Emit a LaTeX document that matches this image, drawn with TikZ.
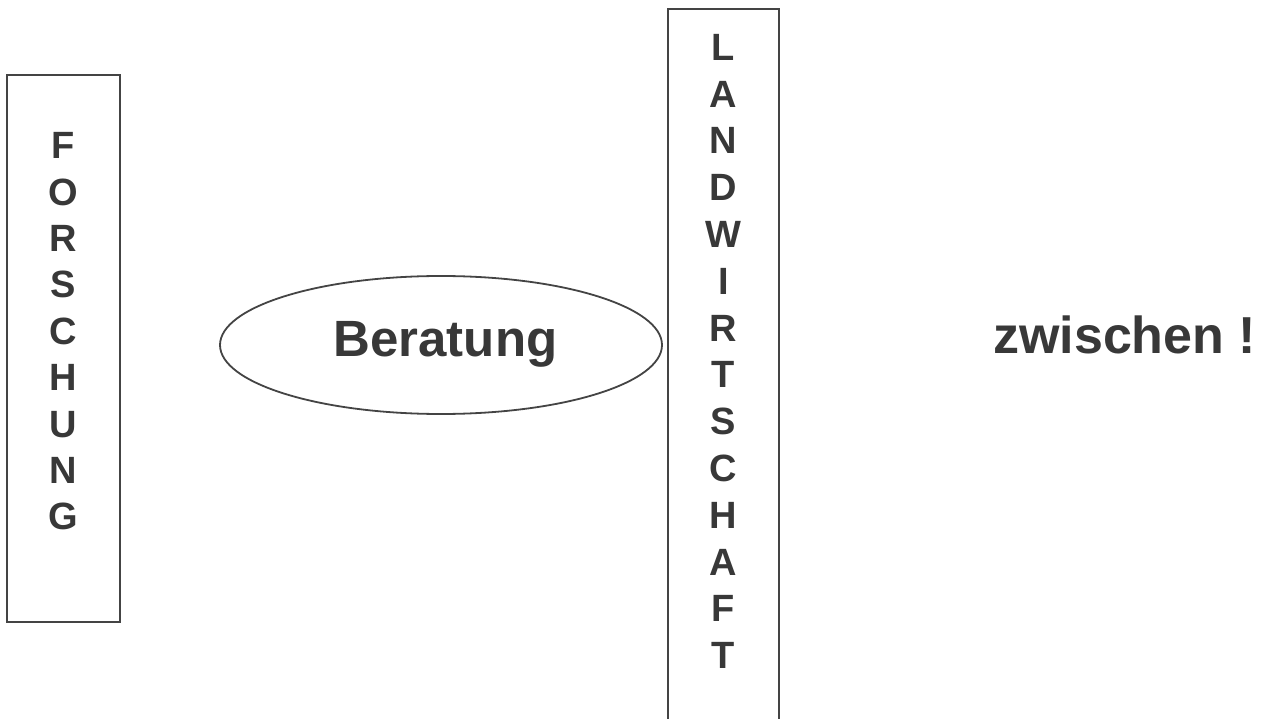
\documentclass[tikz,border=0pt]{standalone}
\usepackage{fontspec}
\setmainfont{Liberation Sans}
\usetikzlibrary{shapes.geometric}
\definecolor{ink}{HTML}{383838}
\definecolor{linec}{HTML}{444444}
\begin{document}
\begin{tikzpicture}[x=1pt,y=-1pt,
  frame/.style={draw=linec, line width=1.9pt, rectangle, inner sep=0pt},
  coltext/.style={text=ink, inner sep=0pt, align=center},
  bigtext/.style={text=ink, font=\bfseries\fontsize{51}{60}\selectfont, inner sep=0pt},
  oval/.style={draw=linec, line width=1.8pt, ellipse, inner sep=0pt}]
\useasboundingbox[fill=white] (0,0) rectangle (1269,719);
% Forschung
\node[frame, minimum width=113pt, minimum height=547pt] (forbox) at (63.5,348.5) {};
\node[coltext, font=\bfseries\fontsize{38}{46.4}\selectfont] (for) at (63.5,331.5) {F\\O\\R\\S\\C\\H\\U\\N\\G};
% Landwirtschaft
\node[frame, minimum width=111pt, minimum height=740pt] (landbox) at (723.5,379) {};
\node[coltext, font=\bfseries\fontsize{38}{46.8}\selectfont] (land) at (723.5,351.5) {L\\A\\N\\D\\W\\I\\R\\T\\S\\C\\H\\A\\F\\T};
% Beratung
\node[oval, minimum width=442pt, minimum height=138pt] (berbox) at (441,345) {};
\node[bigtext, anchor=base] (ber) at (445.5,356) {Beratung};
% zwischen
\node[bigtext, font=\bfseries\fontsize{52}{60}\selectfont, anchor=base west] (zw) at (993,353) {zwischen !};
\end{tikzpicture}
\end{document}
